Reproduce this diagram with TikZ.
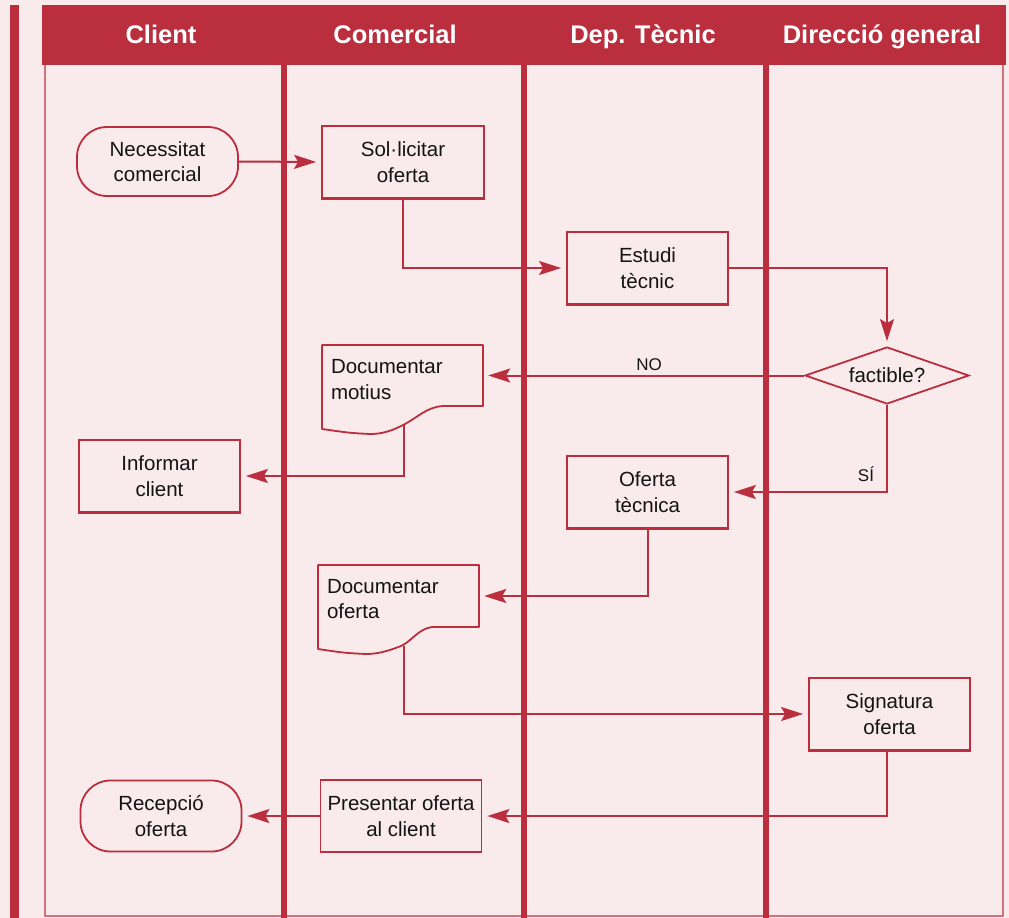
\documentclass[tikz,border=0pt]{standalone}
\usepackage{fontspec}
\setmainfont{Liberation Sans}
\usetikzlibrary{arrows.meta,shapes.geometric,calc}
\definecolor{crim}{RGB}{186,46,62}
\definecolor{bgp}{RGB}{249,234,235}
\definecolor{lanebd}{RGB}{212,112,124}
\definecolor{txt}{RGB}{20,20,20}
\tikzset{
  boxtext/.style={font=\fontsize{20.5}{25.5}\selectfont, text=txt},
  box/.style={boxtext, draw=crim, line width=1.8pt, minimum width=161pt, minimum height=72pt, inner sep=0pt, align=center},
  term/.style={box, rounded corners=30pt},
  doc/.style={boxtext, draw=none, minimum width=161pt, minimum height=61pt, inner xsep=9pt, inner ysep=0pt, text width=143pt, align=left},
  docline/.style={draw=crim, line width=1.8pt, line join=round},
  arr/.style={draw=crim, line width=2pt, -{Stealth[length=22pt,width=14pt,inset=4pt]}, shorten >=5pt},
  lbl/.style={font=\fontsize{17}{20}\selectfont, text=txt, anchor=base},
  hdr/.style={text=white, font=\bfseries\fontsize{25.5}{30}\selectfont, anchor=base},
}
\begin{document}
\begin{tikzpicture}[x=1pt,y=-1pt]
\useasboundingbox (0,0) rectangle (1009,918);
\fill[bgp] (0,0) rectangle (1009,918);
% left bar and header
\fill[crim] (10,5) rectangle (19,918);
\fill[crim] (42,5) rectangle (1006,65);
\node[hdr] (h1) at (161,43) {Client};
\node[hdr] (h2) at (395,43) {Comercial};
\node[hdr] (h3) at (643,43) {Dep. Tècnic};
\node[hdr] (h4) at (882,43) {Direcció general};
% lane frame
\draw[lanebd, line width=1.5pt] (45,65) -- (45,916) -- (1003,916) -- (1003,65);

% nodes
\node[term, minimum height=69pt] (nec) at (157.5,161.5) {Necessitat\\comercial};
\node[box, minimum width=162pt] (sol) at (403,162) {Sol·licitar\\oferta};
\node[box] (est) at (647.5,268) {Estudi\\tècnic};
\node[diamond, aspect=2.88, boxtext, draw=crim, line width=1.8pt, minimum width=164pt, minimum height=57pt, inner sep=0pt] (fac) at (887,375.5) {factible?};
\node[doc] (dm) at (402.5,379.5) {Documentar\\motius};
\node[box] (inf) at (159.5,476) {Informar\\client};
\node[box] (oft) at (647.5,492) {Oferta\\tècnica};
\node[doc] (do) at (398.5,599) {Documentar\\oferta};
\node[box] (sig) at (889.5,714) {Signatura\\oferta};
\node[box] (pre) at (401,816) {Presentar oferta\\al client};
\node[term, minimum height=71pt] (rec) at (161,816) {Recepció\\oferta};

% thicker bottoms
\foreach \n in {sol,est,inf,oft,sig}
  \draw[crim, line width=3pt] (\n.south west) -- (\n.south east);

% document outlines
\draw[docline] (322,345) -- (483,345) -- (483,406) -- (443,406)
  .. controls (427,407) and (418,417) .. (405,424)
  .. controls (392,431) and (382,434) .. (370,434)
  .. controls (350,433) .. (322,429) -- cycle;
\coordinate (dmout) at (404,425);
\draw[docline] (318,565) -- (479,565) -- (479,627) -- (432,627)
  .. controls (418,629) and (412,641) .. (401,646)
  .. controls (388,651) and (378,654) .. (366,654)
  .. controls (345,653) .. (318,649) -- cycle;
\coordinate (doout) at (404,646);

% connectors
\draw[arr] (nec.east) -- (sol.west);
\draw[arr] (sol.south) |- (est.west);
\draw[arr] (est.east) -| (fac.north);
\draw[arr] (fac.west) -- (fac.west -| dm.east);
\node[lbl] (no) at (649,370) {NO};
\draw[arr] (fac.south) |- (oft.east);
\node[lbl] (si) at (866,481) {SÍ};
\draw[arr] (dmout) |- (inf.east);
\draw[arr] (oft.south) |- ([yshift=3pt]do.east);
\draw[arr] (doout) |- (sig.west);
\draw[arr] ([xshift=-3pt]sig.south) |- (pre.east);
\draw[arr] (pre.west) -- (rec.east);

% lane dividers
\foreach \x in {283.5,524,765.5}
  \draw[crim, line width=6pt] (\x,65) -- (\x,918);
\end{tikzpicture}
\end{document}
